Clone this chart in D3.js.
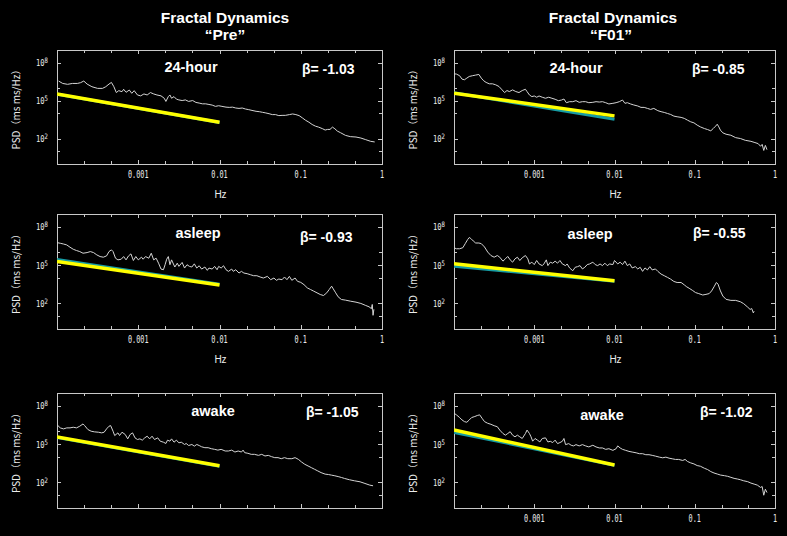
<!DOCTYPE html>
<html>
<head>
<meta charset="utf-8">
<script src="https://cdn.jsdelivr.net/npm/d3@7"></script>
<style>
  body { margin: 0; background: #000; }
  svg { display: block; }
</style>
</head>
<body>
<div class="display"></div>
<script>
// Fractal dynamics: PSD spectra, Pre vs F01, three conditions

const WIDTH = 787;
const HEIGHT = 536;

const groups = ['\u201cPre\u201d', '\u201cF01\u201d'];
const conditions = ['24-hour', 'asleep', 'awake'];
const betas = [['-1.03', '-0.85'], ['-0.93', '-0.55'], ['-1.05', '-1.02']];
const xTickLabels = [0.001, 0.01, 0.1, 1];
const yTickLabels = [8, 5, 2]; // exponents of 10
const yTickMarks = [1, 2, 4, 5, 6, 8];

// spectra, [log10 Hz, log10 PSD]
const pre24 = [[-3.98,6.55],[-3.93,6.36],[-3.87,6.29],[-3.81,6.36],[-3.75,6.36],[-3.71,6.42],[-3.67,6.55],[-3.63,6.31],[-3.57,6.10],[-3.50,5.97],[-3.44,5.97],[-3.40,6.10],[-3.36,6.31],[-3.33,6.44],[-3.30,6.10],[-3.27,5.64],[-3.24,5.79],[-3.20,5.71],[-3.18,5.90],[-3.15,5.66],[-3.11,5.84],[-3.08,5.58],[-3.05,5.79],[-3.01,5.45],[-2.97,5.38],[-2.93,5.53],[-2.89,5.45],[-2.85,5.64],[-2.81,5.53],[-2.77,5.45],[-2.72,5.38],[-2.68,5.19],[-2.66,4.94],[-2.63,5.32],[-2.61,5.45],[-2.59,5.19],[-2.56,5.32],[-2.53,5.12],[-2.50,5.06],[-2.46,5.01],[-2.42,5.06],[-2.38,4.94],[-2.33,5.01],[-2.29,4.86],[-2.25,4.81],[-2.21,4.75],[-2.17,4.75],[-2.13,4.70],[-2.09,4.65],[-2.05,4.55],[-2.01,4.60],[-1.97,4.55],[-1.92,4.49],[-1.88,4.47],[-1.84,4.49],[-1.80,4.42],[-1.76,4.39],[-1.72,4.42],[-1.68,4.34],[-1.64,4.29],[-1.60,4.23],[-1.55,4.16],[-1.51,4.13],[-1.47,4.08],[-1.43,4.03],[-1.39,3.97],[-1.35,3.90],[-1.31,3.90],[-1.27,3.82],[-1.23,3.84],[-1.19,3.84],[-1.14,3.90],[-1.10,3.95],[-1.06,3.90],[-1.02,3.82],[-0.98,3.64],[-0.94,3.45],[-0.90,3.30],[-0.86,3.12],[-0.82,2.99],[-0.78,2.91],[-0.73,2.78],[-0.70,2.68],[-0.67,2.73],[-0.64,2.73],[-0.61,2.91],[-0.58,2.78],[-0.55,2.60],[-0.51,2.47],[-0.45,2.26],[-0.39,2.16],[-0.32,2.13],[-0.26,2.05],[-0.20,1.92],[-0.14,1.79],[-0.09,1.74]];

const f0124 = [[-4.00,7.12],[-3.97,7.10],[-3.93,6.97],[-3.90,6.70],[-3.87,6.65],[-3.84,6.78],[-3.81,6.91],[-3.77,6.97],[-3.73,7.02],[-3.69,7.07],[-3.66,6.78],[-3.63,6.57],[-3.60,6.44],[-3.56,6.33],[-3.52,6.33],[-3.48,6.25],[-3.44,6.12],[-3.40,5.85],[-3.37,5.64],[-3.34,5.80],[-3.31,5.72],[-3.27,5.85],[-3.23,5.72],[-3.19,5.64],[-3.15,5.80],[-3.11,5.90],[-3.09,5.72],[-3.06,5.45],[-3.03,5.32],[-3.00,5.37],[-2.97,5.27],[-2.94,5.37],[-2.90,5.27],[-2.86,5.19],[-2.82,5.27],[-2.78,5.19],[-2.74,5.11],[-2.70,5.00],[-2.66,5.05],[-2.63,5.13],[-2.60,4.84],[-2.56,4.92],[-2.52,4.92],[-2.48,5.00],[-2.44,4.87],[-2.40,4.92],[-2.36,4.92],[-2.32,4.84],[-2.27,4.87],[-2.23,4.92],[-2.19,4.89],[-2.15,4.92],[-2.11,4.84],[-2.07,4.74],[-2.02,4.79],[-1.98,4.84],[-1.94,4.92],[-1.90,5.05],[-1.87,4.79],[-1.84,4.84],[-1.80,4.74],[-1.76,4.66],[-1.71,4.58],[-1.67,4.47],[-1.63,4.47],[-1.59,4.39],[-1.55,4.31],[-1.51,4.39],[-1.46,4.21],[-1.42,4.13],[-1.38,4.07],[-1.34,3.99],[-1.30,3.91],[-1.26,3.78],[-1.22,3.73],[-1.17,3.68],[-1.13,3.60],[-1.09,3.46],[-1.05,3.33],[-1.01,3.25],[-0.97,3.07],[-0.93,2.93],[-0.88,2.80],[-0.84,2.72],[-0.80,2.62],[-0.77,2.80],[-0.74,2.99],[-0.72,3.14],[-0.70,2.93],[-0.68,2.67],[-0.65,2.46],[-0.61,2.35],[-0.55,2.27],[-0.49,2.08],[-0.43,2.01],[-0.37,1.87],[-0.30,1.79],[-0.25,1.69],[-0.21,1.61],[-0.18,1.40],[-0.16,1.55],[-0.14,1.07],[-0.12,1.47],[-0.10,1.13]];

const preAsleep = [[-4.00,6.76],[-3.96,6.71],[-3.92,6.65],[-3.88,6.58],[-3.84,6.40],[-3.80,6.24],[-3.76,6.14],[-3.72,6.06],[-3.68,5.93],[-3.63,5.98],[-3.59,6.06],[-3.55,5.98],[-3.51,5.80],[-3.47,5.67],[-3.43,5.62],[-3.39,5.72],[-3.36,6.06],[-3.33,6.19],[-3.31,6.06],[-3.28,5.54],[-3.25,5.41],[-3.21,5.46],[-3.18,5.67],[-3.15,5.41],[-3.12,5.72],[-3.09,5.88],[-3.06,5.36],[-3.03,5.67],[-3.00,5.41],[-2.96,5.62],[-2.94,5.46],[-2.91,5.67],[-2.87,5.54],[-2.84,5.93],[-2.81,5.41],[-2.78,5.54],[-2.75,5.15],[-2.72,4.69],[-2.69,4.64],[-2.67,5.03],[-2.65,5.46],[-2.63,5.67],[-2.61,5.03],[-2.59,5.41],[-2.55,4.85],[-2.52,5.15],[-2.50,4.90],[-2.46,5.21],[-2.43,4.77],[-2.40,5.03],[-2.37,4.90],[-2.34,4.85],[-2.31,5.10],[-2.28,4.77],[-2.25,4.95],[-2.22,4.69],[-2.18,4.85],[-2.15,4.59],[-2.13,4.77],[-2.09,4.69],[-2.06,4.90],[-2.03,4.64],[-2.01,4.90],[-1.98,4.77],[-1.95,4.95],[-1.92,4.64],[-1.89,4.51],[-1.85,4.69],[-1.83,4.51],[-1.80,4.64],[-1.76,4.38],[-1.73,4.51],[-1.70,4.38],[-1.66,4.33],[-1.62,4.25],[-1.58,4.17],[-1.54,4.17],[-1.50,4.07],[-1.46,3.99],[-1.41,4.12],[-1.37,3.86],[-1.33,3.99],[-1.30,3.81],[-1.27,3.91],[-1.23,3.86],[-1.20,4.07],[-1.17,3.86],[-1.14,4.12],[-1.11,3.81],[-1.07,3.99],[-1.04,3.73],[-1.00,3.65],[-0.96,3.47],[-0.92,3.22],[-0.88,3.09],[-0.84,2.96],[-0.80,2.83],[-0.76,2.70],[-0.72,2.62],[-0.68,2.83],[-0.65,3.09],[-0.62,3.35],[-0.60,3.14],[-0.57,2.83],[-0.54,2.52],[-0.50,2.31],[-0.45,2.26],[-0.39,2.18],[-0.32,2.10],[-0.26,2.00],[-0.20,1.84],[-0.16,1.74],[-0.13,1.59],[-0.12,1.92],[-0.11,1.07],[-0.10,1.54]];

const f01Asleep = [[-4.00,6.36],[-3.97,6.28],[-3.93,6.28],[-3.89,6.36],[-3.86,6.68],[-3.83,7.00],[-3.81,7.16],[-3.79,7.08],[-3.76,6.89],[-3.73,6.73],[-3.69,6.73],[-3.66,6.68],[-3.62,6.42],[-3.58,6.02],[-3.54,5.75],[-3.50,5.62],[-3.46,5.75],[-3.43,5.62],[-3.39,5.31],[-3.36,5.49],[-3.33,5.68],[-3.30,5.41],[-3.27,5.23],[-3.24,5.49],[-3.21,5.62],[-3.18,5.36],[-3.15,5.57],[-3.11,5.75],[-3.08,5.49],[-3.06,5.09],[-3.03,5.23],[-3.00,5.04],[-2.97,5.36],[-2.94,5.09],[-2.90,4.96],[-2.88,5.09],[-2.85,5.41],[-2.83,4.96],[-2.80,5.23],[-2.77,5.15],[-2.74,5.31],[-2.71,5.15],[-2.68,5.36],[-2.65,5.09],[-2.61,4.96],[-2.59,5.09],[-2.56,4.78],[-2.52,4.56],[-2.49,4.83],[-2.46,4.88],[-2.43,4.96],[-2.40,4.70],[-2.37,4.83],[-2.34,5.04],[-2.31,5.09],[-2.27,5.23],[-2.24,5.04],[-2.21,4.96],[-2.18,5.09],[-2.15,4.96],[-2.12,5.15],[-2.09,4.96],[-2.06,5.09],[-2.02,5.04],[-2.00,5.36],[-1.96,5.09],[-1.93,5.23],[-1.90,5.04],[-1.87,5.31],[-1.84,4.96],[-1.81,5.09],[-1.78,4.78],[-1.74,4.88],[-1.71,4.70],[-1.68,4.83],[-1.65,4.51],[-1.62,4.78],[-1.59,4.62],[-1.56,4.88],[-1.53,4.62],[-1.49,4.70],[-1.46,4.51],[-1.42,4.30],[-1.38,4.17],[-1.34,4.04],[-1.30,3.90],[-1.26,3.72],[-1.22,3.64],[-1.17,3.64],[-1.13,3.45],[-1.10,3.30],[-1.07,3.19],[-1.03,3.03],[-0.99,2.85],[-0.95,2.77],[-0.90,2.66],[-0.86,2.71],[-0.82,2.77],[-0.79,2.98],[-0.76,3.30],[-0.73,3.64],[-0.71,3.51],[-0.68,2.98],[-0.65,2.58],[-0.61,2.32],[-0.55,2.24],[-0.49,2.24],[-0.43,2.13],[-0.39,1.98],[-0.34,1.71],[-0.31,1.53],[-0.29,1.60],[-0.27,1.26],[-0.26,1.39]];

const preAwake = [[-4.00,6.52],[-3.96,6.27],[-3.92,6.19],[-3.88,6.27],[-3.84,6.27],[-3.80,6.32],[-3.76,6.27],[-3.72,6.40],[-3.68,6.58],[-3.66,6.45],[-3.62,6.14],[-3.58,6.01],[-3.54,5.96],[-3.49,5.93],[-3.45,5.88],[-3.42,5.93],[-3.39,6.19],[-3.36,6.40],[-3.34,6.45],[-3.31,6.01],[-3.29,5.67],[-3.25,5.88],[-3.23,5.67],[-3.20,5.93],[-3.16,5.75],[-3.13,5.41],[-3.10,5.75],[-3.07,5.88],[-3.04,5.49],[-3.01,5.36],[-2.98,5.41],[-2.95,5.31],[-2.92,5.49],[-2.89,5.62],[-2.86,5.41],[-2.83,5.62],[-2.80,5.36],[-2.76,5.49],[-2.73,5.23],[-2.69,5.15],[-2.66,5.05],[-2.64,5.31],[-2.61,5.23],[-2.59,5.41],[-2.56,5.15],[-2.53,5.31],[-2.50,5.10],[-2.47,5.15],[-2.43,4.97],[-2.41,5.05],[-2.38,4.89],[-2.34,4.97],[-2.31,4.84],[-2.28,4.97],[-2.25,4.89],[-2.22,4.79],[-2.18,4.72],[-2.14,4.72],[-2.10,4.64],[-2.06,4.59],[-2.02,4.53],[-1.98,4.59],[-1.93,4.46],[-1.89,4.46],[-1.85,4.53],[-1.81,4.38],[-1.77,4.46],[-1.73,4.38],[-1.71,4.53],[-1.69,4.33],[-1.65,4.28],[-1.61,4.20],[-1.57,4.20],[-1.52,4.12],[-1.48,4.20],[-1.44,4.07],[-1.40,4.12],[-1.36,4.02],[-1.32,3.94],[-1.28,3.94],[-1.24,3.86],[-1.20,3.94],[-1.16,3.86],[-1.11,3.86],[-1.07,3.94],[-1.03,3.81],[-0.99,3.60],[-0.95,3.42],[-0.91,3.29],[-0.87,3.16],[-0.83,3.03],[-0.79,2.90],[-0.75,2.77],[-0.70,2.65],[-0.66,2.62],[-0.62,2.57],[-0.58,2.52],[-0.54,2.46],[-0.50,2.39],[-0.46,2.31],[-0.40,2.21],[-0.34,2.13],[-0.27,2.05],[-0.21,1.92],[-0.15,1.79],[-0.11,1.74]];

const f01Awake = [[-4.00,7.42],[-3.97,7.29],[-3.93,7.08],[-3.90,6.89],[-3.87,6.76],[-3.84,6.71],[-3.81,6.89],[-3.78,7.08],[-3.74,7.16],[-3.71,7.24],[-3.68,7.29],[-3.65,7.02],[-3.62,6.76],[-3.58,6.63],[-3.54,6.55],[-3.50,6.44],[-3.46,6.36],[-3.43,6.10],[-3.39,5.83],[-3.36,5.70],[-3.33,5.83],[-3.30,5.97],[-3.27,5.70],[-3.24,5.57],[-3.21,5.70],[-3.18,5.57],[-3.15,5.44],[-3.11,5.83],[-3.09,6.10],[-3.06,5.83],[-3.04,5.57],[-3.02,5.23],[-2.99,5.44],[-2.96,5.31],[-2.93,5.17],[-2.90,5.44],[-2.86,5.49],[-2.83,5.17],[-2.80,5.22],[-2.77,5.12],[-2.74,5.31],[-2.71,5.04],[-2.68,5.12],[-2.65,5.22],[-2.63,5.44],[-2.61,4.96],[-2.57,5.04],[-2.54,4.91],[-2.51,4.86],[-2.48,4.96],[-2.44,4.86],[-2.40,4.96],[-2.36,4.86],[-2.32,4.78],[-2.27,4.91],[-2.23,4.78],[-2.19,4.70],[-2.15,4.70],[-2.11,4.59],[-2.07,4.64],[-2.02,4.51],[-1.98,4.64],[-1.96,4.86],[-1.93,4.70],[-1.90,4.59],[-1.86,4.51],[-1.82,4.43],[-1.78,4.38],[-1.73,4.32],[-1.69,4.25],[-1.65,4.25],[-1.61,4.17],[-1.57,4.17],[-1.53,4.12],[-1.49,4.06],[-1.44,3.98],[-1.40,3.93],[-1.36,3.98],[-1.32,3.90],[-1.28,3.85],[-1.24,3.80],[-1.20,3.80],[-1.15,3.72],[-1.12,3.80],[-1.09,3.64],[-1.05,3.53],[-1.01,3.45],[-0.97,3.32],[-0.93,3.27],[-0.88,3.11],[-0.84,3.01],[-0.80,2.85],[-0.76,2.74],[-0.72,2.66],[-0.68,2.58],[-0.63,2.53],[-0.59,2.48],[-0.55,2.40],[-0.51,2.32],[-0.47,2.27],[-0.43,2.21],[-0.39,2.13],[-0.34,2.06],[-0.30,1.95],[-0.26,1.87],[-0.22,1.79],[-0.18,1.61],[-0.16,1.68],[-0.14,1.00],[-0.12,1.47],[-0.10,1.21]];

// regression lines, [log10 Hz, log10 PSD] end points (yellow, cyan)
const fitPre24 = [[-4, 5.52], [-2, 3.30]];
const fitPre24Alt = [[-4, 5.50], [-2, 3.27]];
const fitF0124 = [[-4, 5.59], [-2, 3.80]];
const fitF0124Alt = [[-4, 5.62], [-2, 3.54]];
const fitPreAsleep = [[-4, 5.28], [-2, 3.45]];
const fitPreAsleepAlt = [[-4, 5.45], [-2, 3.50]];
const fitF01Asleep = [[-4, 5.10], [-2, 3.78]];
const fitF01AsleepAlt = [[-4, 4.92], [-2, 3.74]];
const fitPreAwake = [[-4, 5.55], [-2, 3.30]];
const fitPreAwakeAlt = [[-4, 5.52], [-2, 3.27]];
const fitF01Awake = [[-4, 6.10], [-2, 3.37]];
const fitF01AwakeAlt = [[-4, 5.92], [-2, 3.35]];

const spectra = [[pre24, f0124], [preAsleep, f01Asleep], [preAwake, f01Awake]];
const fits = [[fitPre24, fitF0124], [fitPreAsleep, fitF01Asleep], [fitPreAwake, fitF01Awake]];
const fitsAlt = [[fitPre24Alt, fitF0124Alt], [fitPreAsleepAlt, fitF01AsleepAlt], [fitPreAwakeAlt, fitF01AwakeAlt]];

// layout
const COLS = [{ x0: 57, x1: 382, titleX: 225 }, { x0: 454, x1: 775, titleX: 613 }];
const ROWS = [{ y0: 50, y1: 164 }, { y0: 214, y1: 329 }, { y0: 393, y1: 508 }];
// [label centre dx, label baseline dy, beta dx, beta baseline dy] from box corner
const LABEL_POS = [
  [[134, 22, 245, 24], [122, 23, 238, 24]],
  [[141, 24, 243, 28], [136, 25, 239, 24]],
  [[156, 23, 249, 24], [148, 27, 246, 24]]
];
const SHOW_X_TICKS = [[true, true], [true, true], [false, true]];
const SHOW_HZ = [[true, true], [true, true], [false, false]];

const BOLD = 'Arial, "Liberation Sans", sans-serif';
const MONO = '"DejaVu Sans Mono", monospace';
const BOX_COLOR = '#c8c8c8';
const TEXT_COLOR = '#ececec';

const svg = d3.select('.display')
  .append('svg')
  .attr('width', WIDTH)
  .attr('height', HEIGHT);

svg.append('rect').attr('width', WIDTH).attr('height', HEIGHT).attr('fill', '#000');

// column titles
COLS.forEach((c, i) => {
  svg.append('text')
    .attr('x', c.titleX).attr('y', 23)
    .attr('text-anchor', 'middle')
    .attr('font-family', BOLD).attr('font-weight', 'bold').attr('font-size', 15.5)
    .attr('fill', '#fff')
    .text('Fractal Dynamics');
  svg.append('text')
    .attr('x', c.titleX - (i ? 2 : 0)).attr('y', 40)
    .attr('text-anchor', 'middle')
    .attr('font-family', BOLD).attr('font-weight', 'bold').attr('font-size', 15.5)
    .attr('fill', '#fff')
    .text(groups[i]);
});

function drawPanel(r, c) {
  const { x0, x1 } = COLS[c];
  const { y0, y1 } = ROWS[r];
  const g = svg.append('g');

  const x = d3.scaleLog().domain([1e-4, 1]).range([x0, x1]);
  const y = d3.scaleLog().domain([1, 1e9]).range([y1, y0]);

  const clipId = `clip-${r}-${c}`;
  svg.append('clipPath').attr('id', clipId)
    .append('rect')
    .attr('x', x0).attr('y', y0)
    .attr('width', x1 - x0).attr('height', y1 - y0);

  // frame
  g.append('rect')
    .attr('x', x0 + 0.5).attr('y', y0 + 0.5)
    .attr('width', x1 - x0).attr('height', y1 - y0)
    .attr('fill', 'none')
    .attr('stroke', BOX_COLOR)
    .attr('stroke-width', 1);

  // x ticks, every third of a decade, top and bottom
  const xTicks = d3.range(-11, 0).map(k => Math.pow(10, k / 3));
  xTicks.forEach((t, i) => {
    const len = (i + 1) % 3 === 0 ? 4 : 3;
    const px = Math.round(x(t)) + 0.5;
    g.append('line').attr('x1', px).attr('x2', px).attr('y1', y1).attr('y2', y1 - len)
      .attr('stroke', BOX_COLOR);
    g.append('line').attr('x1', px).attr('x2', px).attr('y1', y0).attr('y2', y0 + len)
      .attr('stroke', BOX_COLOR);
  });

  // y ticks, left and right
  yTickMarks.forEach(e => {
    const len = yTickLabels.includes(e) ? 4 : 3;
    const py = Math.round(y(Math.pow(10, e))) + 0.5;
    g.append('line').attr('x1', x0).attr('x2', x0 + len).attr('y1', py).attr('y2', py)
      .attr('stroke', BOX_COLOR);
    g.append('line').attr('x1', x1).attr('x2', x1 - len).attr('y1', py).attr('y2', py)
      .attr('stroke', BOX_COLOR);
  });

  // y tick labels 10^n
  yTickLabels.forEach(e => {
    const py = y(Math.pow(10, e));
    const t = g.append('text')
      .attr('transform', `translate(${x0 - 9}, ${py + 3.5}) scale(0.75, 1)`)
      .attr('text-anchor', 'end')
      .attr('font-family', MONO).attr('font-size', 9.5)
      .attr('fill', TEXT_COLOR)
      .text('10');
    t.append('tspan').attr('dy', -3).attr('font-size', 7.5).text(e);
  });

  // y axis title
  g.append('text')
    .attr('transform', `translate(${x0 - 37}, ${(y0 + y1) / 2}) rotate(-90)`)
    .attr('text-anchor', 'middle')
    .attr('font-family', '"Noto Sans CJK JP", sans-serif').attr('font-size', 10)
    .attr('fill', TEXT_COLOR)
    .text('PSD\uff08ms ms/Hz\uff09');

  // x tick labels
  if (SHOW_X_TICKS[r][c]) {
    xTickLabels.forEach(v => {
      g.append('text')
        .attr('transform', `translate(${x(v)}, ${y1 + 14}) scale(0.62, 1)`)
        .attr('text-anchor', 'middle')
        .attr('font-family', MONO).attr('font-size', 11)
        .attr('fill', TEXT_COLOR)
        .text(v);
    });
  }
  if (SHOW_HZ[r][c]) {
    g.append('text')
      .attr('x', (x0 + x1) / 2 + 1).attr('y', y1 + 34)
      .attr('text-anchor', 'middle')
      .attr('font-family', '"Liberation Sans", Arial, sans-serif').attr('font-size', 10)
      .attr('fill', TEXT_COLOR)
      .text('Hz');
  }

  const line = d3.line()
    .x(d => x(Math.pow(10, d[0])))
    .y(d => y(Math.pow(10, d[1])));

  const plot = g.append('g').attr('clip-path', `url(#${clipId})`);

  plot.append('path')
    .attr('d', line(spectra[r][c]))
    .attr('fill', 'none')
    .attr('stroke', '#d4d4d4')
    .attr('stroke-width', 1)
    .attr('stroke-linejoin', 'round');

  plot.append('path')
    .attr('d', line(fitsAlt[r][c]))
    .attr('fill', 'none')
    .attr('stroke', '#169ca4')
    .attr('stroke-width', 3);

  plot.append('path')
    .attr('d', line(fits[r][c]))
    .attr('fill', 'none')
    .attr('stroke', '#ffff00')
    .attr('stroke-width', 3.5);

  // condition label and beta
  const [ldx, ldy, bdx, bdy] = LABEL_POS[r][c];
  g.append('text')
    .attr('x', x0 + ldx).attr('y', y0 + ldy)
    .attr('text-anchor', 'middle')
    .attr('font-family', BOLD).attr('font-weight', 'bold').attr('font-size', 14.5)
    .attr('fill', '#fff')
    .text(conditions[r]);
  g.append('text')
    .attr('x', x0 + bdx).attr('y', y0 + bdy)
    .attr('font-family', BOLD).attr('font-weight', 'bold').attr('font-size', 14)
    .attr('fill', '#fff')
    .text(`\u03b2= ${betas[r][c]}`);
}

for (let r = 0; r < ROWS.length; r++) {
  for (let c = 0; c < COLS.length; c++) {
    drawPanel(r, c);
  }
}
</script>
</body>
</html>
